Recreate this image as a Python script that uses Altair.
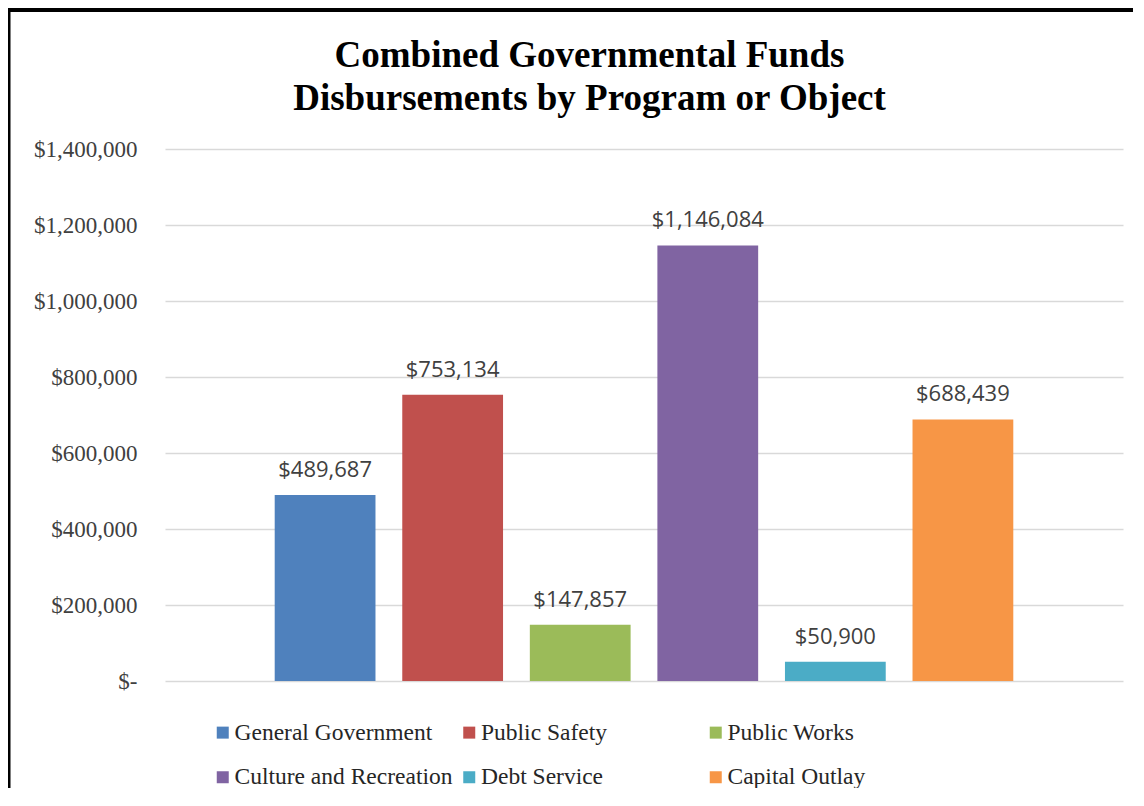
import altair as alt
import pandas as pd

categories = ["General Government", "Public Safety", "Public Works",
              "Culture and Recreation", "Debt Service", "Capital Outlay"]
values = [489687, 753134, 147857, 1146084, 50900, 688439]
colors = ["#4F81BD", "#C0504D", "#9BBB59", "#8064A2", "#4BACC6", "#F79646"]
y_ticks = [0, 200000, 400000, 600000, 800000, 1000000, 1200000, 1400000]
title_lines = ["Combined Governmental Funds", "Disbursements by Program or Object"]

df = pd.DataFrame({
    "category": categories,
    "value": values,
    "label": ["$" + f"{v:,}" for v in values],
})

x_enc = alt.X("category:N", sort=categories, axis=None,
              scale=alt.Scale(paddingInner=0.21, paddingOuter=0.86))
y_enc = alt.Y("value:Q",
              scale=alt.Scale(domain=[0, 1400000], nice=False),
              axis=alt.Axis(values=y_ticks, title=None,
                            labelExpr="datum.value == 0 ? '$-' : '$' + format(datum.value, ',')",
                            labelFont="Liberation Serif", labelFontSize=23,
                            labelColor="#404040", labelPadding=28,
                            ticks=False, tickSize=0, domain=False,
                            gridColor="#D9D9D9", gridWidth=1.5))

bars = alt.Chart(df).mark_bar().encode(
    x=x_enc,
    y=y_enc,
    color=alt.Color("category:N", sort=categories,
                    scale=alt.Scale(domain=categories, range=colors),
                    legend=alt.Legend(orient="none", legendX=46, legendY=571.5,
                                      direction="horizontal",
                                      columns=3, gridAlign="all",
                                      columnPadding=4.5, rowPadding=20,
                                      symbolType="square", symbolSize=144,
                                      symbolStrokeWidth=0, symbolOpacity=1,
                                      labelFont="Liberation Serif", labelFontSize=23.5,
                                      labelColor="#262626", labelOffset=0,
                                      labelLimit=400, title=None, padding=0)),
)

labels = alt.Chart(df).mark_text(
    font="Open Sans", fontSize=22, color="#404040",
    align="center", baseline="alphabetic", dy=-18,
).encode(x=x_enc, y=alt.Y("value:Q"), text="label:N")

title = alt.Chart(alt.Data(values=[{"t": 1}])).mark_text(
    font="Liberation Serif", fontSize=37, fontWeight="bold", color="black",
    align="center", baseline="alphabetic", lineHeight=43,
).encode(x=alt.value(424.5), y=alt.value(-82), text=alt.value(title_lines))

frame = alt.Chart(alt.Data(values=[{"f": 1}])).mark_rect(
    fillOpacity=0, stroke="black", strokeWidth=5,
).encode(x=alt.value(-157), x2=alt.value(1100),
         y=alt.value(-139.5), y2=alt.value(1000))

chart = alt.layer(bars, labels, title, frame).properties(
    width=958, height=532,
    background="white",
    padding={"left": 157, "top": 141, "right": 10, "bottom": 107},
    autosize=alt.AutoSizeParams(type="none"),
).configure_view(strokeWidth=0, stroke="transparent")

chart.save("out.html", embed_options={"renderer": "svg", "actions": False})
